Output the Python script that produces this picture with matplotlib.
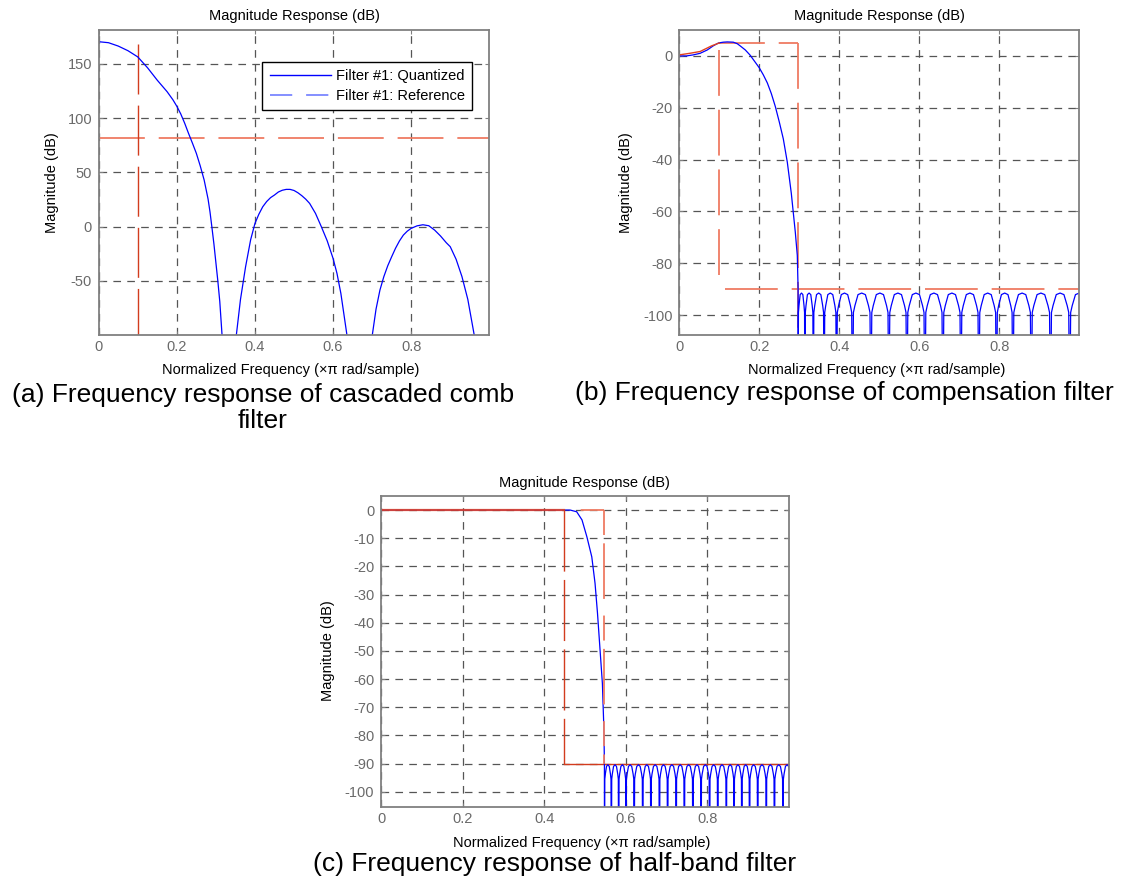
import matplotlib
matplotlib.use('Agg')
import matplotlib.pyplot as plt
from matplotlib.lines import Line2D

plt.rcParams['font.family'] = ['Liberation Sans', 'DejaVu Sans']
plt.rcParams['lines.scale_dashes'] = False

W, H = 1124, 881

# ---------------- data ----------------
# (a) cascaded comb filter
A_FREQ = [0.0, 0.025, 0.05, 0.075, 0.1, 0.125, 0.15, 0.175, 0.19, 0.2, 0.21, 0.22, 0.23,
          0.24, 0.25, 0.26, 0.27, 0.28, 0.285, 0.29, 0.295, 0.3, 0.305, 0.31, 0.316, 0.333,
          0.352, 0.363, 0.376, 0.389, 0.4, 0.41, 0.42, 0.43, 0.44, 0.45, 0.46, 0.47, 0.48,
          0.49, 0.5, 0.51, 0.52, 0.53, 0.54, 0.555, 0.57, 0.585, 0.6, 0.61, 0.62, 0.636,
          0.667, 0.700, 0.71, 0.72, 0.73, 0.74, 0.75, 0.76, 0.77, 0.78, 0.79, 0.8, 0.815,
          0.83, 0.845, 0.86, 0.875, 0.89, 0.9, 0.915, 0.93, 0.945, 0.962, 1.0]
A_MAG = [170.5, 169.6, 166.5, 162.2, 156.5, 146.5, 135, 124.5, 117, 111, 104, 95.5, 86,
         77, 67.6, 56, 43, 25.5, 13.5, -1, -16, -33, -50, -69, -101, -130,
         -101, -67, -37, -12, 3, 11.5, 18.4, 23.2, 26.8, 29.2, 32.0, 33.6, 34.4,
         34.4, 33.4, 31.3, 28.6, 25.4, 21.5, 12.3, 0, -13, -29.2, -43, -61.5, -101,
         -130, -101, -76, -58.4, -46, -36, -27.7, -19.8, -13.1, -7.7, -4.1, -1.5, 0.8,
         1.8, 0.9, -3.1, -8.5, -14.8, -18.4, -30, -46, -67, -101, -130]
A_MASK_LEVEL = 82
A_MASK_EDGE = 0.1
A_MASK_EDGE_TOP = 168
A_YLIM = (-99.8, 181.3)
A_YTICKS = [-50, 0, 50, 100, 150]

# (b) compensation filter
B_FREQ = [0.0, 0.018, 0.035, 0.052, 0.07, 0.085, 0.098, 0.11, 0.12, 0.135, 0.145, 0.152,
          0.165, 0.177, 0.19, 0.2, 0.21, 0.22, 0.23, 0.24, 0.25, 0.26, 0.27, 0.28, 0.29,
          0.295, 0.297]
B_MAG = [0, 0, 0.4, 1.0, 2.3, 3.9, 5.0, 5.3, 5.4, 5.3, 4.7, 3.9, 2.3, 0.3, -2.5, -4.6,
         -7.3, -10.4, -14.5, -19.5, -25.5, -32, -41, -53, -68, -77, -90]
B_REF_FREQ = [0.0, 0.026, 0.052, 0.081, 0.1]
B_REF_MAG = [0.4, 1.0, 1.7, 3.9, 5.0]
B_NULLS = [0.297, 0.314, 0.335, 0.362, 0.393, 0.433, 0.479, 0.524, 0.569, 0.614, 0.659,
           0.704, 0.749, 0.793, 0.834, 0.880, 0.928, 0.976, 1.024]
B_PEAKS = [-91.5] * (len(B_NULLS) - 1)
B_SHOULDER = -99.0
B_PASS_EDGE, B_STOP_EDGE = 0.1, 0.297
B_PASS_TOP, B_PASS_EDGE_TOP, B_PASS_EDGE_BOTTOM = 5.0, 2.3, -86
B_STOP_LEVEL = -90
B_YLIM = (-107.8, 10.0)
B_YTICKS = [-100, -80, -60, -40, -20, 0]

# (c) half-band filter
C_FREQ = [0.0, 0.464, 0.48, 0.493, 0.505, 0.517, 0.525, 0.531, 0.538, 0.543, 0.546, 0.547, 0.548]
C_MAG = [0, 0, -0.6, -3.5, -9.5, -16.6, -26, -36.6, -51, -61.5, -74.6, -80.5, -90]
C_NULLS = [0.548, 0.565, 0.583, 0.601, 0.621, 0.642, 0.662, 0.683, 0.703, 0.724, 0.744,
           0.765, 0.785, 0.806, 0.826, 0.847, 0.866, 0.885, 0.904, 0.924, 0.945, 0.965,
           0.986, 1.006]
C_PEAKS = [-90.4] * (len(C_NULLS) - 1)
C_SHOULDER = -95.5
C_PASS_EDGE, C_STOP_EDGE = 0.448, 0.546
C_STOP_LEVEL = -90
C_YLIM = (-105.3, 5.1)
C_YTICKS = [-100, -90, -80, -70, -60, -50, -40, -30, -20, -10, 0]

XTICKS = [0, 0.2, 0.4, 0.6, 0.8]
XTICKLABELS = ['0', '0.2', '0.4', '0.6', '0.8']

TITLE = 'Magnitude Response (dB)'
XLABEL = 'Normalized Frequency (\u00d7\u03c0 rad/sample)'
YLABEL = 'Magnitude (dB)'
LEGEND_LABELS = ['Filter #1: Quantized', 'Filter #1: Reference']
CAP_A = '(a) Frequency response of cascaded comb\nfilter'
CAP_B = '(b) Frequency response of compensation filter'
CAP_C = '(c) Frequency response of half-band filter'

# ---------------- styles ----------------
BLUE = '#0000ff'
LIGHT_BLUE = '#6f7dff'
DARK_RED = '#d23c1e'
SALMON = '#ef7b62'
REF_RED = '#e2401e'
GRID = '#555555'
SPINE = '#808080'
TICKLAB = '#6a6a6a'
FLOOR = -140
MASK_DASH = (0, (33, 10))
LOBE_FRAC = [0.0, 0.05, 0.13, 0.3, 0.5, 0.7, 0.87, 0.95, 1.0]


def stopband(nulls, peaks, shoulder):
    fs, ms = [], []
    for i in range(len(nulls) - 1):
        a, b = nulls[i], nulls[i + 1]
        p = peaks[i]
        levels = [FLOOR, shoulder, shoulder + 0.35 * (p - shoulder), p - 0.6, p,
                  p - 0.6, shoulder + 0.35 * (p - shoulder), shoulder, FLOOR]
        for fr, lv in zip(LOBE_FRAC, levels):
            fs.append(a + fr * (b - a))
            ms.append(lv)
    return fs, ms


def px_rect(x0, y0, x1, y1):
    return [x0 / W, 1 - y1 / H, (x1 - x0) / W, (y1 - y0) / H]


fig = plt.figure(figsize=(W / 100, H / 100), dpi=100)

axA = fig.add_axes(px_rect(98.7, 30, 489.3, 335))
axB = fig.add_axes(px_rect(679.3, 30, 1079.3, 335.3))
axC = fig.add_axes(px_rect(381, 495.7, 788.7, 806.7))


def style(ax, ylim, yticks):
    ax.set_xlim(0, 1.0)
    ax.set_ylim(*ylim)
    ax.set_xticks(XTICKS)
    ax.set_xticklabels(XTICKLABELS)
    ax.set_yticks(yticks)
    ax.set_yticklabels([str(t) for t in yticks])
    ax.set_axisbelow(True)
    ax.grid(True, color=GRID, lw=0.9, linestyle=(0, (5.5, 4.5)))
    for s in ax.spines.values():
        s.set_color(SPINE)
        s.set_linewidth(1.3)
    ax.tick_params(direction='in', length=3, width=0.8, color=SPINE, labelcolor=TICKLAB,
                   labelsize=10.5, top=True, right=True)
    ax.tick_params(axis='x', pad=3.7)
    ax.tick_params(axis='y', pad=4.8)


# ---- (a)
style(axA, A_YLIM, A_YTICKS)
axA.axhline(A_MASK_LEVEL, color=SALMON, lw=1.3, linestyle=MASK_DASH)
axA.plot([A_MASK_EDGE, A_MASK_EDGE], [A_MASK_EDGE_TOP, A_YLIM[0]], color=DARK_RED, lw=1.0,
         linestyle=(0, (36, 8)))
axA.plot(A_FREQ, A_MAG, color=BLUE, lw=0.9)
handles = [Line2D([], [], color=BLUE, lw=1.0),
           Line2D([], [], color=LIGHT_BLUE, lw=1.2, linestyle=(0, (16, 10)))]
leg = axA.legend(handles, LEGEND_LABELS, loc='upper right',
                 bbox_to_anchor=(472.3 / W, 1 - 62 / H), bbox_transform=fig.transFigure,
                 borderaxespad=0, fontsize=10.5, frameon=True, fancybox=False,
                 handlelength=4.2, handletextpad=0.35, labelspacing=0.38, borderpad=0.5,
                 framealpha=1)
leg.get_frame().set_edgecolor('black')
leg.get_frame().set_linewidth(1.0)

# ---- (b)
style(axB, B_YLIM, B_YTICKS)
axB.plot([B_PASS_EDGE, B_STOP_EDGE], [B_PASS_TOP, B_PASS_TOP], color=SALMON, lw=1.3,
         linestyle=MASK_DASH)
axB.plot([B_PASS_EDGE, B_PASS_EDGE], [B_PASS_EDGE_TOP, B_PASS_EDGE_BOTTOM], color=SALMON,
         lw=1.3, linestyle=MASK_DASH)
axB.plot([B_STOP_EDGE, B_STOP_EDGE], [B_PASS_TOP, B_YLIM[0]], color=SALMON, lw=1.3,
         linestyle=MASK_DASH)
axB.plot([B_PASS_EDGE + 0.015, 1.0], [B_STOP_LEVEL, B_STOP_LEVEL], color=SALMON, lw=1.3,
         linestyle=(0, (38, 10)))
bsf, bsm = stopband(B_NULLS, B_PEAKS, B_SHOULDER)
axB.plot(B_FREQ + bsf, B_MAG + bsm, color=BLUE, lw=0.9)
axB.plot(B_REF_FREQ, B_REF_MAG, color=REF_RED, lw=1.0)

# ---- (c)
style(axC, C_YLIM, C_YTICKS)
axC.plot([C_PASS_EDGE, 1.0], [C_STOP_LEVEL, C_STOP_LEVEL], color=DARK_RED, lw=1.0)
csf, csm = stopband(C_NULLS, C_PEAKS, C_SHOULDER)
axC.plot(C_FREQ + csf, C_MAG + csm, color=BLUE, lw=0.9)
axC.plot([0, C_PASS_EDGE], [0, 0], color=REF_RED, lw=1.6, alpha=0.85)
axC.plot([C_PASS_EDGE, C_PASS_EDGE], [0, C_STOP_LEVEL], color=DARK_RED, lw=1.0,
         linestyle=(0, (44, 6)))
axC.plot([C_PASS_EDGE, C_STOP_EDGE], [0, 0], color=SALMON, lw=1.3, linestyle=(0, (0, 12, 20, 6)))
axC.plot([C_STOP_EDGE, C_STOP_EDGE], [0, C_STOP_LEVEL], color=SALMON, lw=1.3,
         linestyle=(0, (18, 6, 40, 12)))

# ---- texts
def ftext(x, y, s, **kw):
    fig.text(x / W, 1 - y / H, s, **kw)

for cx, ty, lx, ly, xy in [(294, 16.3, 52, 182.5, 370.3),
                           (879.3, 16.3, 626, 182.5, 370.3),
                           (584.9, 482.5, 328, 651, 843)]:
    ftext(cx, ty, TITLE, ha='center', va='center', fontsize=10.5)
    ftext(cx - 3, xy, XLABEL, ha='center', va='center', fontsize=10.5)
    ftext(lx, ly, YLABEL, ha='center', va='center', fontsize=10.5, rotation=90)

ftext(263, 408, CAP_A, ha='center', va='center', fontsize=19, multialignment='center',
      linespacing=1.08)
ftext(844.5, 393, CAP_B, ha='center', va='center', fontsize=19)
ftext(554.5, 864, CAP_C, ha='center', va='center', fontsize=19)

fig.savefig('out.png', dpi=100)
